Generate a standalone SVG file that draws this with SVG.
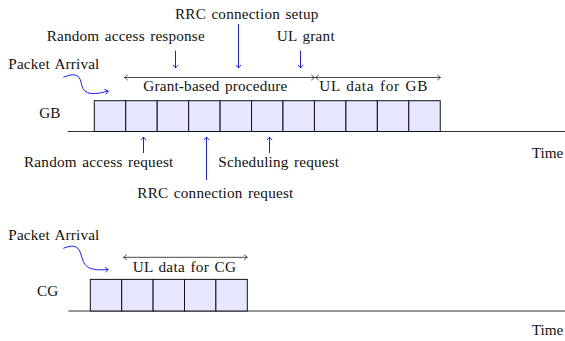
<svg xmlns="http://www.w3.org/2000/svg" width="565" height="341" viewBox="0 0 565 341">
<style>
.slot{fill:#e6e6ff;stroke:#111;stroke-width:1}
.axis{stroke:#333;stroke-width:1;fill:none}
.span{stroke:#333;stroke-width:0.9;fill:none;marker-start:url(#ah);marker-end:url(#ah)}
.ptr{stroke:#0000ff;stroke-width:0.9;fill:none;marker-end:url(#bh)}
</style>
<defs>
<marker id="ah" viewBox="-4 -4 5 8" refX="0" refY="0" markerWidth="5" markerHeight="8" markerUnits="userSpaceOnUse" orient="auto-start-reverse">
<path d="M-3.2,-2.6 Q-0.8,-0.6 0,0 Q-0.8,0.6 -3.2,2.6" fill="none" stroke="#222" stroke-width="0.8"/>
</marker>
<marker id="bh" viewBox="-4 -4 5 8" refX="0" refY="0" markerWidth="5" markerHeight="8" markerUnits="userSpaceOnUse" orient="auto">
<path d="M-3.2,-2.6 Q-0.8,-0.6 0,0 Q-0.8,0.6 -3.2,2.6" fill="none" stroke="#0000ff" stroke-width="0.8"/>
</marker>
</defs>

<g id="gb-timeline" font-family="Liberation Serif" font-size="15.2" fill="#111">
<line class="axis" x1="67.7" y1="131.5" x2="565" y2="131.5"/>
<rect class="slot" x="94.3" y="100.7" width="31.45" height="30.8"/>
<rect class="slot" x="125.75" y="100.7" width="31.45" height="30.8"/>
<rect class="slot" x="157.2" y="100.7" width="31.45" height="30.8"/>
<rect class="slot" x="188.65" y="100.7" width="31.45" height="30.8"/>
<rect class="slot" x="220.1" y="100.7" width="31.45" height="30.8"/>
<rect class="slot" x="251.55" y="100.7" width="31.45" height="30.8"/>
<rect class="slot" x="283" y="100.7" width="31.45" height="30.8"/>
<rect class="slot" x="314.45" y="100.7" width="31.45" height="30.8"/>
<rect class="slot" x="345.9" y="100.7" width="31.45" height="30.8"/>
<rect class="slot" x="377.35" y="100.7" width="31.45" height="30.8"/>
<rect class="slot" x="408.8" y="100.7" width="31.45" height="30.8"/>
<text x="39.3" y="117.5">GB</text>
<text x="531.7" y="158">Time</text>
</g>

<g id="cg-timeline" font-family="Liberation Serif" font-size="15.2" fill="#111">
<line class="axis" x1="68.3" y1="311" x2="565" y2="311"/>
<rect class="slot" x="90.3" y="279.4" width="31.4" height="31.6"/>
<rect class="slot" x="121.7" y="279.4" width="31.4" height="31.6"/>
<rect class="slot" x="153.1" y="279.4" width="31.4" height="31.6"/>
<rect class="slot" x="184.5" y="279.4" width="31.4" height="31.6"/>
<rect class="slot" x="215.9" y="279.4" width="31.4" height="31.6"/>
<text x="37" y="295.7">CG</text>
<text x="531.7" y="334.5">Time</text>
</g>

<g id="gb-labels" font-family="Liberation Serif" font-size="15.2" fill="#111" word-spacing="1.4">
<text x="175" y="18.5" textLength="143.3">RRC connection setup</text>
<text x="46.7" y="40.5" textLength="158">Random access response</text>
<text x="276.7" y="40.5" textLength="58">UL grant</text>
<text x="8.3" y="69" textLength="91">Packet Arrival</text>
<text x="143.3" y="90.7" textLength="144">Grant-based procedure</text>
<text x="319.3" y="90.7" textLength="108">UL data for GB</text>
<text x="24" y="166.7" textLength="149.3">Random access request</text>
<text x="218.3" y="166.7" textLength="120.7">Scheduling request</text>
<text x="137.3" y="197.7" textLength="156">RRC connection request</text>
</g>

<g id="cg-labels" font-family="Liberation Serif" font-size="15.2" fill="#111" word-spacing="1.4">
<text x="8.3" y="240" textLength="91">Packet Arrival</text>
<text x="132.7" y="272.3" textLength="103.3">UL data for CG</text>
</g>

<g id="connectors">
<line class="span" x1="124.5" y1="77.5" x2="314.5" y2="77.5"/>
<line class="span" x1="315.5" y1="77.5" x2="440.5" y2="77.5"/>
<line class="span" x1="123.5" y1="257.3" x2="247.3" y2="257.3"/>
<line class="ptr" x1="175.5" y1="50.7" x2="175.5" y2="68"/>
<line class="ptr" x1="238.5" y1="24" x2="238.5" y2="68"/>
<line class="ptr" x1="300.5" y1="50.7" x2="300.5" y2="68"/>
<line class="ptr" x1="143.5" y1="153" x2="143.5" y2="137"/>
<line class="ptr" x1="206.5" y1="180" x2="206.5" y2="137"/>
<line class="ptr" x1="269.5" y1="153" x2="269.5" y2="137"/>
<path class="ptr" d="M63.3,77.3 C74,73 79,74 81,82 C83,92 87,97 108.3,91"/>
<path class="ptr" d="M63.3,248.3 C74,244 79,246 81.5,256 C84,267 89,271 108.3,269.5"/>
</g>
</svg>
